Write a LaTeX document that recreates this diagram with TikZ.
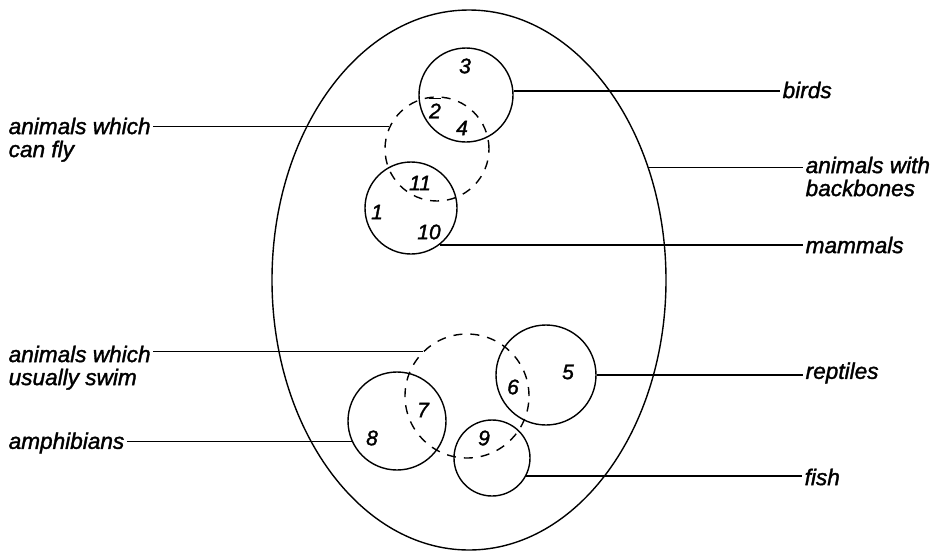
\documentclass[tikz,border=0pt]{standalone}
\usepackage{fontspec}
\setmainfont{Liberation Sans}
\newfontfamily\lblfont[FakeBold=1.5]{Liberation Sans}
\usetikzlibrary{shapes.geometric}

\newcommand{\barred}[1]{\makebox[0pt][l]{\raisebox{0.92em}{\rule{0.55em}{0.6pt}}}#1}

\tikzset{
  set/.style={draw, circle, inner sep=0pt},
  maybe/.style={set, dash pattern=on 4.5pt off 4pt},
  lbl/.style={font=\lblfont\fontsize{11.3}{11.5}\selectfont\itshape, inner sep=1pt, align=left},
  num/.style={font=\lblfont\fontsize{10.5}{12}\selectfont\itshape, inner sep=0pt},
}

\begin{document}
\begin{tikzpicture}[x=0.5pt, y=-0.5pt, line width=0.7pt]
  \useasboundingbox (0,0) rectangle (933,553);
  % animals with backbones
  \node[draw, ellipse, minimum width=197pt, minimum height=270pt, inner sep=0pt] (backbone) at (469,280) {};
  % the sets inside
  \node[set, minimum size=47pt] (birds) at (466,95) {};
  \node[set, minimum size=46pt] (mammals) at (411,208) {};
  \node[maybe, minimum size=52pt] (fly) at (437,149) {};
  \node[set, minimum size=50pt] (reptiles) at (546,375) {};
  \node[set, minimum size=49pt] (amph) at (397,421) {};
  \node[set, minimum size=38pt] (fish) at (492,458) {};
  \node[maybe, minimum size=62pt] (swim) at (467,396) {};

  % numbers
  \node[num] (n3) at (465,66) {3};
  \node[num] (n2) at (435,108) {\barred{2}};
  \node[num] (n4) at (462,128) {4};
  \node[num] (n11) at (420,183) {11};
  \node[num] (n1) at (377,212) {1};
  \node[num] (n10) at (429,232) {10};
  \node[num] (n5) at (568,372) {5};
  \node[num] (n6) at (513,387) {6};
  \node[num] (n7) at (423,410) {7};
  \node[num] (n8) at (372,438) {8};
  \node[num] (n9) at (484,438) {9};

  % labels
  \node[lbl, anchor=west] (birdtxt) at (780,90) {birds};
  \node[lbl, anchor=north west] (backtxt) at (803,154) {animals with\\backbones};
  \node[lbl, anchor=west] (mamtxt) at (803,245) {mammals};
  \node[lbl, anchor=west] (reptxt) at (803,373) {reptiles};
  \node[lbl, anchor=west] (fishtxt) at (802,477) {fish};
  \node[lbl, anchor=north west] (flytxt) at (6,115) {animals which\\can fly};
  \node[lbl, anchor=north west] (swimtxt) at (6,343) {animals which\\usually swim};
  \node[lbl, anchor=west] (amphtxt) at (6,443) {amphibians};

  % connectors
  \draw (birds.5) -- (birds.5 -| birdtxt.west);
  \draw (backbone.32) -- (backbone.32 -| backtxt.west);
  \draw (mammals.-52) -- (mammals.-52 -| mamtxt.west);
  \draw (reptiles.east) -- (reptiles.east -| reptxt.west);
  \draw (fish.-28) -- (fish.-28 -| fishtxt.west);
  \draw (flytxt.east |- fly.155) -- (fly.155);
  \draw (swimtxt.east |- swim.135) -- (swim.135);
  \draw (amphtxt.east |- amph.204) -- (amph.204);
\end{tikzpicture}
\end{document}
